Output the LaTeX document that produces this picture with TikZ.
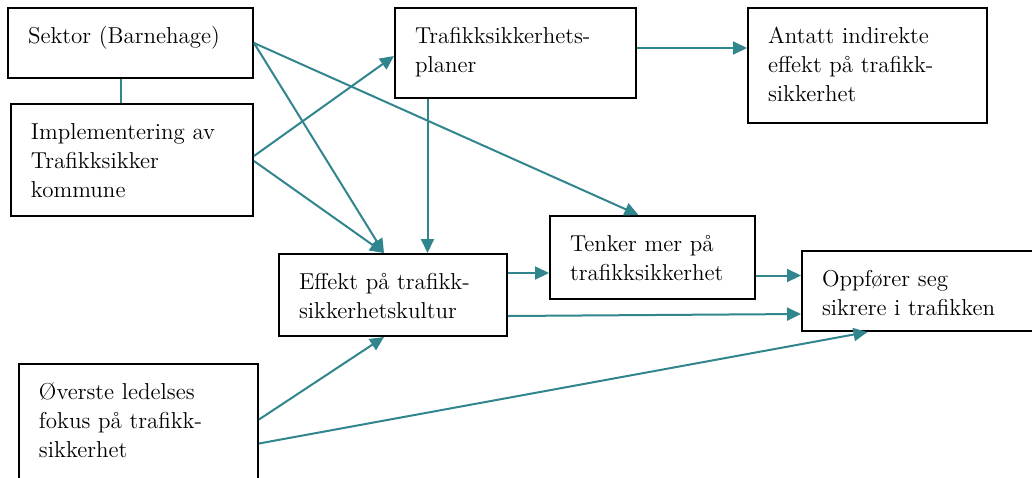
\documentclass[tikz,border=0pt]{standalone}
\usetikzlibrary{arrows.meta}
\definecolor{pil}{RGB}{49,133,141}
\tikzset{
  boks/.style={draw, line width=1pt, anchor=north west, align=left,
    inner xsep=10pt, inner ysep=7.5pt, text height=10pt,
    font=\fontsize{11.5}{14.5}\selectfont},
  pilen/.style={draw=pil, line width=1pt, -{Triangle[length=7pt,width=6.5pt]}},
  linje/.style={draw=pil, line width=1pt}
}
\begin{document}
\begin{tikzpicture}[x=0.5pt,y=-0.5pt]
\useasboundingbox (0,0) rectangle (1032,477);
% venstre side
\node[boks, text width=102.5pt, text depth=10pt] (sektor) at (7,7) {Sektor (Barnehage)};
\node[boks, text width=101pt, text depth=31pt] (impl) at (10,103) {Implementering av\\Trafikksikker\\kommune};
\node[boks, text width=99.5pt, text depth=38.5pt] (fokus) at (18,363) {Øverste ledelses\\fokus på trafikk-\\sikkerhet};
% midten
\node[boks, text width=100.5pt, text depth=20pt] (planer) at (394,7) {Trafikksikkerhets-\\planer};
\node[boks, text width=94pt, text depth=16pt] (effekt) at (278,253) {Effekt på trafikk-\\sikkerhetskultur};
\node[boks, text width=82.5pt, text depth=16.5pt] (tenker) at (549,215) {Tenker mer på\\trafikksikkerhet};
% hoyre side
\node[boks, text width=99.5pt, text depth=32.5pt] (antatt) at (747,7) {Antatt indirekte\\effekt på trafikk-\\sikkerhet};
\node[boks, text width=99.5pt, text depth=15pt] (oppforer) at (801,250) {Oppfører seg\\sikrere i trafikken};
% forbindelser
\draw[linje] ([xshift=-5pt]sektor.south) -- ([xshift=-5pt]sektor.south |- impl.north);
\draw[pilen] (sektor.east) -- ([xshift=-4.5pt]effekt.north);
\draw[pilen] (sektor.east) -- ([xshift=-7pt]tenker.north);
\draw[pilen] ([yshift=2pt]impl.east) -- ([yshift=-1.5pt]planer.west);
\draw[pilen] ([yshift=-0.5pt]impl.east) -- ([xshift=-4.5pt]effekt.north);
\draw[pilen] ([xshift=-44pt]planer.south) -- ([xshift=-44pt]planer.south |- effekt.north);
\draw[pilen] ([yshift=2.5pt]planer.east) -- ([yshift=2.5pt]planer.east -| antatt.west);
\draw[pilen] ([yshift=11pt]effekt.east) -- ([yshift=11pt]effekt.east -| tenker.west);
\draw[pilen] ([yshift=-10.5pt]effekt.east) -- ([yshift=-9.5pt]effekt.east -| oppforer.west);
\draw[pilen] ([yshift=-9pt]tenker.east) -- ([yshift=-9pt]tenker.east -| oppforer.west);
\draw[pilen] ([yshift=4pt]fokus.east) -- ([xshift=-4.5pt]effekt.south);
\draw[pilen] ([yshift=-8pt]fokus.east) -- ([xshift=-27pt]oppforer.south);
\end{tikzpicture}
\end{document}
